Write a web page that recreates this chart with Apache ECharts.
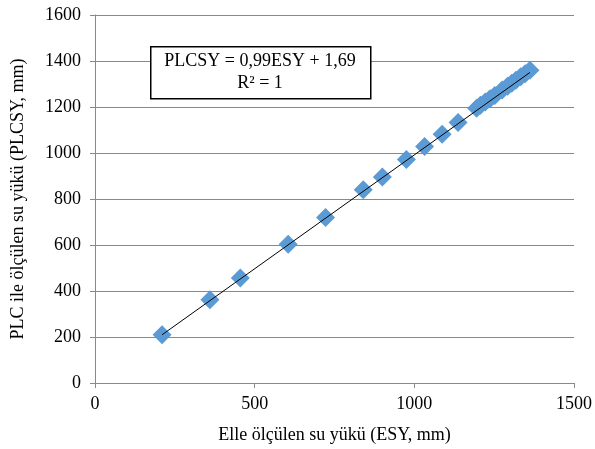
<!DOCTYPE html>
<html><head><meta charset="utf-8">
<script src="https://cdn.jsdelivr.net/npm/echarts@6/dist/echarts.min.js"></script>
<style>html,body{margin:0;padding:0;background:#fff}#c{width:595px;height:449px}</style>
</head><body><div id="c"></div>
<script>
var esy   = [210, 360, 455, 605, 722, 840, 900, 975, 1032, 1087, 1137, 1195, 1207, 1222, 1237, 1252, 1275, 1292, 1305, 1318, 1333, 1347, 1362];
var plcsy = [210, 362, 457, 603, 720, 840, 896, 972, 1028, 1082, 1133, 1195, 1208, 1222, 1236, 1250, 1274, 1290, 1303, 1316, 1331, 1345, 1360];
var trendX = [210, 1362];
var trendY = [209.6, 1350.1];
var xTicks = [0, 500, 1000, 1500];
var yTicks = [0, 200, 400, 600, 800, 1000, 1200, 1400, 1600];
var eqText = 'PLCSY = 0,99ESY + 1,69';
var r2Text = 'R² = 1';
var xName = 'Elle ölçülen su yükü (ESY, mm)';
var yName = 'PLC ile ölçülen su yükü (PLCSY, mm)';

var FONT = '"Liberation Serif", "Times New Roman", serif';
var chart = echarts.init(document.getElementById('c'), null, {renderer: 'canvas'});
var pts = esy.map(function(v, i){ return [v, plcsy[i]]; });
var tr = trendX.map(function(v, i){ return [v, trendY[i]]; });
function plain(v){ return String(v); }
chart.setOption({
  animation: false,
  backgroundColor: '#fff',
  grid: {left: 95, right: 19, top: 15, bottom: 65},
  xAxis: {
    type: 'value', min: xTicks[0], max: xTicks[xTicks.length-1], interval: 500,
    name: xName, nameLocation: 'middle', nameGap: 43,
    nameTextStyle: {fontFamily: FONT, fontSize: 18, color: '#000'},
    axisLine: {show: true, lineStyle: {color: '#898989', width: 1}},
    axisTick: {show: true, length: 5, lineStyle: {color: '#898989'}},
    axisLabel: {fontFamily: FONT, fontSize: 18, color: '#000', margin: 12, formatter: plain},
    splitLine: {show: false}
  },
  yAxis: {
    type: 'value', min: yTicks[0], max: yTicks[yTicks.length-1], interval: 200,
    name: yName, nameLocation: 'middle', nameGap: 68,
    nameTextStyle: {fontFamily: FONT, fontSize: 18, color: '#000'},
    axisLine: {show: true, lineStyle: {color: '#898989', width: 1}},
    axisTick: {show: true, length: 5, lineStyle: {color: '#898989'}},
    axisLabel: {fontFamily: FONT, fontSize: 18, color: '#000', margin: 14, formatter: plain},
    splitLine: {show: true, lineStyle: {color: '#898989', width: 1}}
  },
  series: [
    {type: 'scatter', data: pts, symbol: 'diamond', symbolSize: 19,
     itemStyle: {color: '#5B9BD5', opacity: 1}, z: 2},
    {type: 'line', data: tr, showSymbol: false, symbol: 'none',
     lineStyle: {color: '#000', width: 1}, z: 3}
  ],
  graphic: [
    {type: 'rect', left: 150, top: 46, z: 10,
     shape: {width: 220, height: 52},
     style: {fill: '#fff', stroke: '#000', lineWidth: 1.5}},
    {type: 'text', z: 11, x: 260, y: 61,
     style: {text: eqText, font: '18px ' + FONT, fill: '#000', align: 'center', verticalAlign: 'middle'}},
    {type: 'text', z: 11, x: 260, y: 83,
     style: {text: r2Text, font: '18px ' + FONT, fill: '#000', align: 'center', verticalAlign: 'middle'}}
  ]
});
</script></body></html>
